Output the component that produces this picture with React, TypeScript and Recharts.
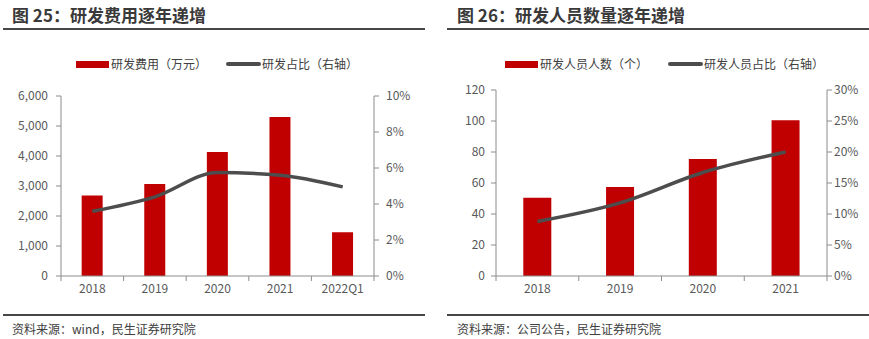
import React from 'react';
import { ComposedChart, Bar, Line, XAxis, YAxis } from 'recharts';

const FONT = '"Noto Sans CJK SC", "Noto Sans", sans-serif';

// 图25 data
const costYears = ['2018', '2019', '2020', '2021', '2022Q1'];
const costValues = [2680, 3070, 4130, 5300, 1460];
const costRatio = [3.6, 4.4, 5.75, 5.6, 4.95];
const costLeftTicks = [0, 1000, 2000, 3000, 4000, 5000, 6000];
const costRightTicks = [0, 2, 4, 6, 8, 10];

// 图26 data
const staffYears = ['2018', '2019', '2020', '2021'];
const staffValues = [50.5, 57.5, 75.5, 100.5];
const staffRatio = [8.8, 11.8, 16.7, 20];
const staffLeftTicks = [0, 20, 40, 60, 80, 100, 120];
const staffRightTicks = [0, 5, 10, 15, 20, 25, 30];

const costData = costYears.map((year, i) => ({ year, value: costValues[i], ratio: costRatio[i] }));
const staffData = staffYears.map((year, i) => ({ year, value: staffValues[i], ratio: staffRatio[i] }));

const AXIS = '#8c8c8c';
const RED = '#c00000';
const LINE = '#4d4d4d';

const makeXTick = (half: number, count: number) => (props: any) => {
  const { x, y, payload, index } = props;
  return (
    <g>
      <line x1={x - half} y1={y} x2={x - half} y2={y + 5} stroke={AXIS} />
      {index === count - 1 && <line x1={x + half} y1={y} x2={x + half} y2={y + 5} stroke={AXIS} />}
      <text x={x} y={y + 17} textAnchor="middle" fill="#595959" fontSize={12} fontFamily={FONT}>
        {payload.value}
      </text>
    </g>
  );
};

const Legend2 = ({ left, barLabel, lineLabel, lineLeft }: any) => (
  <div style={{ position: 'absolute', top: 56, left: 0, width: 435, height: 16, fontSize: 12, color: '#404040', fontFamily: FONT }}>
    <div style={{ position: 'absolute', left, top: 5, width: 33, height: 7, background: RED }} />
    <div style={{ position: 'absolute', left: left + 35, top: 0, lineHeight: '16px', whiteSpace: 'nowrap' }}>{barLabel}</div>
    <div style={{ position: 'absolute', left: lineLeft, top: 6, width: 35, height: 4, borderRadius: 2, background: LINE }} />
    <div style={{ position: 'absolute', left: lineLeft + 36, top: 0, lineHeight: '16px', whiteSpace: 'nowrap' }}>{lineLabel}</div>
  </div>
);

const Panel = ({ left, title, source, children, lineLeft, lineWidth }: any) => (
  <div style={{ position: 'absolute', left, top: 0, width: 435, height: 339 }}>
    <div style={{ position: 'absolute', left: 12, top: 4, fontSize: 17, fontWeight: 700, color: '#3a3a3a', fontFamily: FONT, whiteSpace: 'nowrap', lineHeight: '22px' }}>
      {title}
    </div>
    <div style={{ position: 'absolute', left: lineLeft, top: 28, width: lineWidth, height: 2, background: '#474747' }} />
    {children}
    <div style={{ position: 'absolute', left: lineLeft, top: 314, width: lineWidth, height: 2, background: '#474747' }} />
    <div style={{ position: 'absolute', left: 12, top: 320, fontSize: 12, color: '#404040', fontFamily: FONT, whiteSpace: 'nowrap', lineHeight: '18px' }}>
      {source}
    </div>
  </div>
);

const tickStyle = { fill: '#595959', fontSize: 12, fontFamily: FONT };

export default function App() {
  return (
    <div style={{ position: 'absolute', left: 0, top: 0, width: 869, height: 339, background: '#fff', overflow: 'hidden' }}>
      <Panel left={0} title="图 25：研发费用逐年递增" source="资料来源：wind，民生证券研究院" lineLeft={3} lineWidth={422}>
        <Legend2 left={76} barLabel="研发费用（万元）" lineLabel="研发占比（右轴）" lineLeft={226} />
        <div style={{ position: 'absolute', left: 0, top: 80 }}>
          <ComposedChart width={435} height={230} data={costData} margin={{ top: 16, right: 11, left: 0, bottom: 4 }} barCategoryGap="33%">
            <XAxis dataKey="year" axisLine={{ stroke: AXIS }} tickLine={false} tickSize={0} tickMargin={0} height={30}
              tick={makeXTick(313 / 5 / 2, costYears.length)} interval={0} />
            <YAxis yAxisId="l" width={61} domain={[0, 6000]} ticks={costLeftTicks} axisLine={{ stroke: AXIS }}
              tickLine={{ stroke: AXIS }} tickSize={5} tickMargin={8} tick={tickStyle}
              tickFormatter={(v: number) => v.toLocaleString('en-US')} />
            <YAxis yAxisId="r" orientation="right" width={50} domain={[0, 10]} ticks={costRightTicks} axisLine={{ stroke: AXIS }}
              tickLine={{ stroke: AXIS }} tickSize={5} tickMargin={7} tick={tickStyle} tickFormatter={(v: number) => `${v}%`} />
            <Bar yAxisId="l" dataKey="value" fill={RED} isAnimationActive={false} />
            <Line yAxisId="r" dataKey="ratio" type="monotone" stroke={LINE} strokeWidth={3.5} dot={false} isAnimationActive={false} />
          </ComposedChart>
        </div>
      </Panel>
      <Panel left={445} title="图 26：研发人员数量逐年递增" source="资料来源：公司公告，民生证券研究院" lineLeft={2} lineWidth={422}>
        <Legend2 left={60} barLabel="研发人员人数（个）" lineLabel="研发人员占比（右轴）" lineLeft={223} />
        <div style={{ position: 'absolute', left: -10, top: 80 }}>
          <ComposedChart width={434} height={230} data={staffData} margin={{ top: 10, right: 0, left: 0, bottom: 4 }} barCategoryGap="33%">
            <XAxis dataKey="year" axisLine={{ stroke: AXIS }} tickLine={false} tickSize={0} tickMargin={0} height={30}
              tick={makeXTick(331 / 4 / 2, staffYears.length)} interval={0} />
            <YAxis yAxisId="l" width={61} domain={[0, 120]} ticks={staffLeftTicks} axisLine={{ stroke: AXIS }}
              tickLine={{ stroke: AXIS }} tickSize={5} tickMargin={6} tick={tickStyle} />
            <YAxis yAxisId="r" orientation="right" width={42} domain={[0, 30]} ticks={staffRightTicks} axisLine={{ stroke: AXIS }}
              tickLine={{ stroke: AXIS }} tickSize={5} tickMargin={2} tick={tickStyle} tickFormatter={(v: number) => `${v}%`} />
            <Bar yAxisId="l" dataKey="value" fill={RED} isAnimationActive={false} />
            <Line yAxisId="r" dataKey="ratio" type="monotone" stroke={LINE} strokeWidth={3.5} dot={false} isAnimationActive={false} />
          </ComposedChart>
        </div>
      </Panel>
    </div>
  );
}
